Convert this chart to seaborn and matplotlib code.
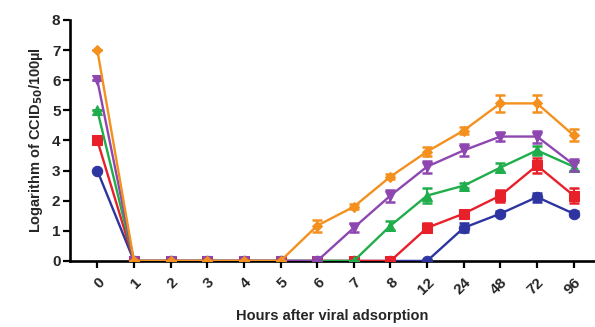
import matplotlib
matplotlib.use("Agg")
import matplotlib.pyplot as plt
import seaborn as sns
import pandas as pd
import numpy as np

hours = ["0", "1", "2", "3", "4", "5", "6", "7", "8", "12", "24", "48", "72", "96"]

s1 = [3, 0, 0, 0, 0, 0, 0, 0, 0, 0, 1.1, 1.57, 2.12, 1.57]
s2 = [4, 0, 0, 0, 0, 0, 0, 0, 0, 1.1, 1.57, 2.17, 3.17, 2.17]
s3 = [5, 0, 0, 0, 0, 0, 0, 0, 1.17, 2.17, 2.5, 3.1, 3.67, 3.13]
s4 = [6, 0, 0, 0, 0, 0, 0, 1.1, 2.17, 3.13, 3.67, 4.13, 4.13, 3.2]
s5 = [7, 0, 0, 0, 0, 0, 1.17, 1.8, 2.8, 3.63, 4.33, 5.23, 5.23, 4.17]

e1 = [0, 0, 0, 0, 0, 0, 0, 0, 0, 0, 0.15, 0.08, 0.15, 0.08]
e2 = [0, 0, 0, 0, 0, 0, 0, 0, 0, 0.15, 0.1, 0.2, 0.25, 0.25]
e3 = [0, 0, 0, 0, 0, 0, 0, 0, 0.15, 0.25, 0.08, 0.15, 0.15, 0.15]
e4 = [0, 0, 0, 0, 0, 0, 0, 0.15, 0.2, 0.2, 0.2, 0.15, 0.2, 0.2]
e5 = [0, 0, 0, 0, 0, 0, 0.2, 0.08, 0.08, 0.15, 0.12, 0.28, 0.28, 0.2]

names = ["A", "B", "C", "D", "E"]
series = [s1, s2, s3, s4, s5]
errs = [e1, e2, e3, e4, e5]
colors = ["#2e35a0", "#e8202a", "#1fae4b", "#8e47b0", "#f4901e"]
markers = ["o", "s", "^", "v", "D"]
msizes = [7.5, 7.5, 7.5, 7.5, 5.5]

rows = []
for n, s, e in zip(names, series, errs):
    for i, (v, ev) in enumerate(zip(s, e)):
        rows.append({"pos": i, "val": v, "err": ev, "grp": n})
df = pd.DataFrame(rows)

sns.set_style("ticks")
plt.rcParams["font.family"] = ["Liberation Sans", "DejaVu Sans"]
plt.rcParams["font.weight"] = "bold"

fig = plt.figure(figsize=(5.95, 3.27), dpi=100)
ax = fig.add_axes([0.118, 0.202, 0.880, 0.737])

for k, n in enumerate(names):
    d = df[df["grp"] == n]
    ax.errorbar(d["pos"], d["val"], yerr=d["err"], fmt="none", ecolor=colors[k],
                elinewidth=1.5, capsize=3.5, capthick=1.8, zorder=2 + k)
    sns.lineplot(data=d, x="pos", y="val", color=colors[k], marker=markers[k],
                 markersize=msizes[k], markeredgecolor=colors[k], linewidth=1.7,
                 ax=ax, zorder=3 + k, legend=False)

ax.set_xlim(-0.74, 13.55)
ax.set_ylim(0, 8)
ax.set_xticks(range(len(hours)))
ax.set_xticklabels(hours, rotation=45, ha="right", rotation_mode="anchor",
                   fontsize=11, fontweight="heavy")
ax.set_yticks(range(0, 9))
ax.set_yticklabels([str(i) for i in range(9)], fontsize=11, fontweight="heavy")
ax.tick_params(axis="both", width=1.6, length=5, color="black")
ax.tick_params(axis="x", pad=5)
ax.tick_params(axis="y", pad=2)
for sp in ["left", "bottom"]:
    ax.spines[sp].set_linewidth(1.9)
    ax.spines[sp].set_color("black")
ax.spines["top"].set_visible(False)
ax.spines["right"].set_visible(False)
ax.set_xlabel("Hours after viral adsorption", fontsize=10.5, fontweight="bold", labelpad=9)
ax.set_ylabel("Logarithm of CCID$_{\\mathbf{50}}$/100µl", fontsize=10.5, fontweight="bold", labelpad=5)
fig.savefig("out.png", dpi=100)
